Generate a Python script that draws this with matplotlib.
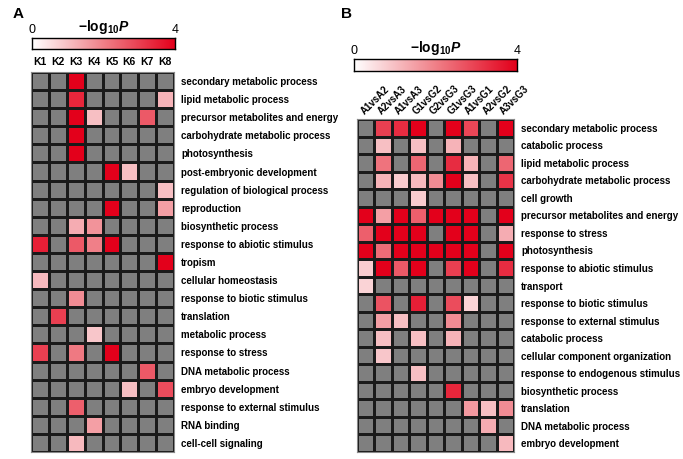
import numpy as np
import matplotlib
matplotlib.use("Agg")
import matplotlib.pyplot as plt
from matplotlib.colors import LinearSegmentedColormap

plt.rcParams['font.family'] = ['Liberation Sans', 'DejaVu Sans']
plt.rcParams['mathtext.fontset'] = 'custom'
plt.rcParams['mathtext.rm'] = 'Liberation Sans'
plt.rcParams['mathtext.bf'] = 'Liberation Sans:bold'
plt.rcParams['mathtext.it'] = 'Liberation Sans:italic'
plt.rcParams['mathtext.bfit'] = 'Liberation Sans:bold:italic'

n = np.nan

# panel A
a_cols = ['K1', 'K2', 'K3', 'K4', 'K5', 'K6', 'K7', 'K8']
a_rows = ['secondary metabolic process', 'lipid metabolic process',
          'precursor metabolites and energy', 'carbohydrate metabolic process',
          'photosynthesis', 'post-embryonic development',
          'regulation of biological process', 'reproduction',
          'biosynthetic process', 'response to abiotic stimulus', 'tropism',
          'cellular homeostasis', 'response to biotic stimulus', 'translation',
          'metabolic process', 'response to stress', 'DNA metabolic process',
          'embryo development', 'response to external stimulus', 'RNA binding',
          'cell-cell signaling']
a_vals = [
    [n, n, 4.0, n, n, n, n, n],
    [n, n, 3.4, n, n, n, n, 1.2],
    [n, n, 4.0, 1.0, n, n, 2.6, n],
    [n, n, 4.0, n, n, n, n, n],
    [n, n, 4.0, n, n, n, n, n],
    [n, n, n, n, 4.0, 1.0, n, n],
    [n, n, n, n, n, n, n, 1.0],
    [n, n, n, n, 4.0, n, n, 1.5],
    [n, n, 1.3, 1.7, n, n, n, n],
    [3.5, n, 2.6, 2.0, 4.0, n, n, n],
    [n, n, n, n, n, n, n, 4.0],
    [1.1, n, n, n, n, n, n, n],
    [n, n, 1.8, n, n, n, n, n],
    [n, 3.0, n, n, n, n, n, n],
    [n, n, n, 0.9, n, n, n, n],
    [3.0, n, 2.1, n, 4.0, n, n, n],
    [n, n, n, n, n, n, 2.6, n],
    [n, n, n, n, n, 1.0, n, 2.8],
    [n, n, 2.5, n, n, n, n, n],
    [n, n, n, 1.5, n, n, n, n],
    [n, n, 1.1, n, n, n, n, n],
]

# panel B
b_cols = ['A1vsA2', 'A2vsA3', 'A1vsA3', 'G1vsG2', 'G2vsG3', 'G1vsG3',
          'A1vsG1', 'A2vsG2', 'A3vsG3']
b_rows = ['secondary metabolic process', 'catabolic process',
          'lipid metabolic process', 'carbohydrate metabolic process',
          'cell growth', 'precursor metabolites and energy', 'response to stress',
          'photosynthesis', 'response to abiotic stimulus', 'transport',
          'response to biotic stimulus', 'response to external stimulus',
          'catabolic process', 'cellular component organization',
          'response to endogenous stimulus', 'biosynthetic process',
          'translation', 'DNA metabolic process', 'embryo development']
b_vals = [
    [n, 3.0, 3.3, 4.0, n, 4.0, 2.9, n, 4.0],
    [n, 1.0, n, 1.0, n, 1.2, n, n, n],
    [n, 2.2, n, 2.4, n, 3.3, 1.2, n, 2.4],
    [n, 1.2, 0.8, 1.1, 1.8, 4.0, 1.0, n, 3.2],
    [n, n, n, 0.8, n, n, n, n, n],
    [4.0, 1.5, 4.0, 2.5, 4.0, 4.0, 4.0, n, 4.0],
    [2.5, 4.0, 4.0, 4.0, n, 4.0, 4.0, n, 1.3],
    [4.0, 2.3, 4.0, 4.0, 4.0, 4.0, 4.0, n, 4.0],
    [0.8, 4.0, 2.6, 4.0, n, 3.0, 4.0, n, 3.3],
    [0.7, n, n, n, n, n, n, n, n],
    [n, 2.7, n, 3.5, n, 2.8, 0.7, n, n],
    [n, 1.5, 1.0, n, n, 1.8, n, n, n],
    [n, 1.0, n, 1.0, n, 1.2, n, n, n],
    [n, 0.9, n, n, n, n, n, n, n],
    [n, n, n, 1.0, n, n, n, n, n],
    [n, n, n, n, n, 3.4, n, n, n],
    [n, n, n, n, n, n, 1.6, 1.0, 1.8],
    [n, n, n, n, n, n, n, 1.3, n],
    [n, n, n, n, n, n, n, n, 1.1],
]

W, H = 683, 459
cmap = LinearSegmentedColormap.from_list('wr', ['#ffffff', '#f08088', '#e3001b'])
cmap.set_bad('#7f7f7f')


def px_axes(fig, x0, y0, x1, y1):
    return fig.add_axes([x0 / W, 1 - y1 / H, (x1 - x0) / W, (y1 - y0) / H])


def heat(ax, vals, rows, cols, rotate):
    data = np.ma.masked_invalid(np.array(vals))
    ax.pcolormesh(data, cmap=cmap, vmin=0, vmax=4, edgecolor='#1a1a1a', linewidth=1.0)
    ax.set_xlim(0, len(cols))
    ax.set_ylim(len(rows), 0)
    ax.yaxis.tick_right()
    ax.set_yticks(np.arange(len(rows)) + 0.5)
    ax.set_yticklabels(rows, fontsize=7, fontweight='bold')
    ax.xaxis.tick_top()
    ax.set_xticks(np.arange(len(cols)) + 0.5)
    if rotate:
        ax.set_xticklabels(cols, fontsize=7, fontweight='bold', rotation=45,
                           ha='left', va='bottom', rotation_mode='anchor')
        ax.tick_params(axis='x', pad=2)
    else:
        ax.set_xticklabels(cols, fontsize=7.5, fontweight='bold')
    ax.tick_params(length=0)
    ax.tick_params(axis='y', pad=5)
    for s in ax.spines.values():
        s.set_color('#888888')
        s.set_linewidth(0.8)


def cbar(fig, x0, y0, x1, y1):
    ax = px_axes(fig, x0, y0, x1, y1)
    ax.imshow(np.linspace(0, 4, 256)[None, :], cmap=cmap, aspect='auto',
              extent=[0, 4, 0, 1])
    ax.set_xticks([])
    ax.set_yticks([])
    for s in ax.spines.values():
        s.set_color('black')
        s.set_linewidth(1.0)
    ax.text(0, 1.15, '0', ha='center', va='bottom', fontsize=9, transform=ax.transAxes)
    ax.text(1, 1.15, '4', ha='center', va='bottom', fontsize=9, transform=ax.transAxes)
    ax.text(0.5, 1.2, r'$\mathbf{-log}_{\mathbf{10}}\mathbfit{P}$', ha='center',
            va='bottom', fontsize=10, transform=ax.transAxes)


fig = plt.figure(figsize=(W / 100, H / 100), dpi=100)

axA = px_axes(fig, 31, 72, 174, 452)
heat(axA, a_vals, a_rows, a_cols, False)
cbar(fig, 32, 38, 175, 49)

axB = px_axes(fig, 357, 119, 514, 452)
heat(axB, b_vals, b_rows, b_cols, True)
cbar(fig, 354, 59, 517, 71)

fig.text(13 / W, 1 - 14 / H, 'A', fontsize=11, fontweight='bold', va='center')
fig.text(341 / W, 1 - 14 / H, 'B', fontsize=11, fontweight='bold', va='center')

fig.savefig('out.png', dpi=100)
